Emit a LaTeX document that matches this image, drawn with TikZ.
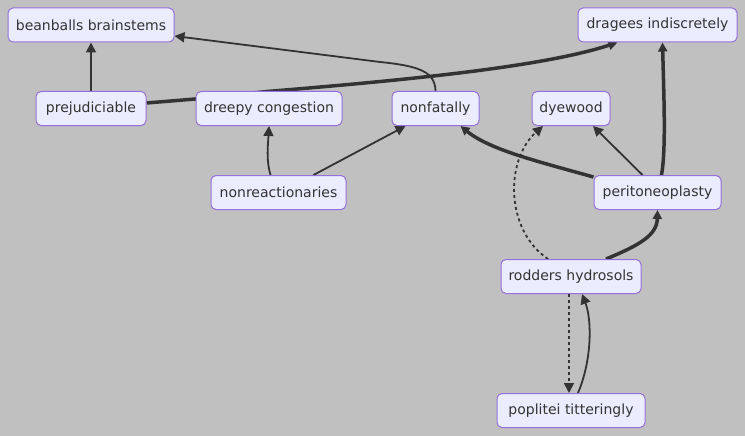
\documentclass[tikz,border=0pt]{standalone}
\usepackage{fontspec}
\setmainfont{DejaVu Sans}
\usetikzlibrary{arrows.meta,calc}
\definecolor{bgc}{HTML}{C0C0C0}
\definecolor{nodefill}{HTML}{ECECFF}
\definecolor{nodeline}{HTML}{9370DB}
\definecolor{edgec}{HTML}{333333}
\pgfdeclarelayer{canvas}
\pgfdeclarelayer{edges}
\pgfsetlayers{canvas,edges,main}
\begin{document}
\begin{tikzpicture}[x=1pt,y=-1pt,
  box/.style={rectangle, rounded corners=5pt, draw=nodeline, fill=nodefill, line width=1pt,
    minimum height=34pt, inner sep=0pt, text=edgec, font=\fontsize{14pt}{16pt}\selectfont},
  edge/.style={draw=edgec, line width=1.8pt, -{Triangle[length=10pt,width=10pt]}},
  thick edge/.style={draw=edgec, line width=3.5pt, -{Triangle[length=9pt,width=9pt]}},
  dot edge/.style={draw=edgec, line width=1.8pt, dash pattern=on 3pt off 3pt, -{Triangle[length=10pt,width=10pt]}}]
\begin{pgfonlayer}{canvas}
\fill[bgc] (0,0) rectangle (745,436);
\end{pgfonlayer}
\useasboundingbox (0,0) rectangle (745,436);
\node[box, minimum width=166pt] (bb) at (91,25) {beanballs brainstems};
\node[box, minimum width=159pt] (dr) at (657.5,25) {dragees indiscretely};
\node[box, minimum width=110pt] (pj) at (91,108.5) {prejudiciable};
\node[box, minimum width=146pt] (dc) at (269,108.5) {dreepy congestion};
\node[box, minimum width=87pt] (nf) at (435.5,108.5) {nonfatally};
\node[box, minimum width=78pt] (dw) at (571,108.5) {dyewood};
\node[box, minimum width=135pt] (nr) at (278.5,192.5) {nonreactionaries};
\node[box, minimum width=127pt] (pt) at (657.5,192.5) {peritoneoplasty};
\node[box, minimum width=140pt] (rh) at (571,276.5) {rodders hydrosols};
\node[box, minimum width=148pt] (pp) at (571,410.5) {poplitei titteringly};
\begin{pgfonlayer}{edges}
\draw[edge] (pj.north) -- (bb.south);
\draw[edge] (nf.north) .. controls (435,72) and (420,66) .. (380,62) -- ($(bb.east)+(0,11)$);
\draw[thick edge] ($(pj.east)+(0,-5.5)$) -- (195,99) -- (267,91.5) .. controls (420,79) and (545,66) .. ($(dr.south)+(-40,0)$);
\draw[edge] ($(nr.north)+(-8,0)$) .. controls (266,160) and (268,145) .. (dc.south);
\draw[edge] ($(nr.north)+(35,0)$) -- ($(nf.south)+(-30,0)$);
\draw[thick edge] ($(pt.north west)+(0,2)$) .. controls (540,162) and (490,150) .. ($(nf.south)+(25,0)$);
\draw[edge] ($(pt.north)+(-15,0)$) -- ($(dw.south)+(22,0)$);
\draw[thick edge] ($(pt.north)+(4,0)$) .. controls (666,150) and (664,100) .. ($(dr.south)+(5,0)$);
\draw[dot edge] ($(rh.north)+(-23,0)$) .. controls (505,230) and (505,160) .. ($(dw.south)+(-28,0)$);
\draw[thick edge] ($(rh.north)+(35,0)$) .. controls (640,245) and (657,235) .. (pt.south);
\draw[dot edge] ($(rh.south)+(-2,0)$) -- ($(pp.north)+(-2,0)$);
\draw[edge] ($(pp.north)+(7,0)$) .. controls (592,360) and (592,320) .. ($(rh.south)+(11,0)$);
\end{pgfonlayer}
\end{tikzpicture}
\end{document}
